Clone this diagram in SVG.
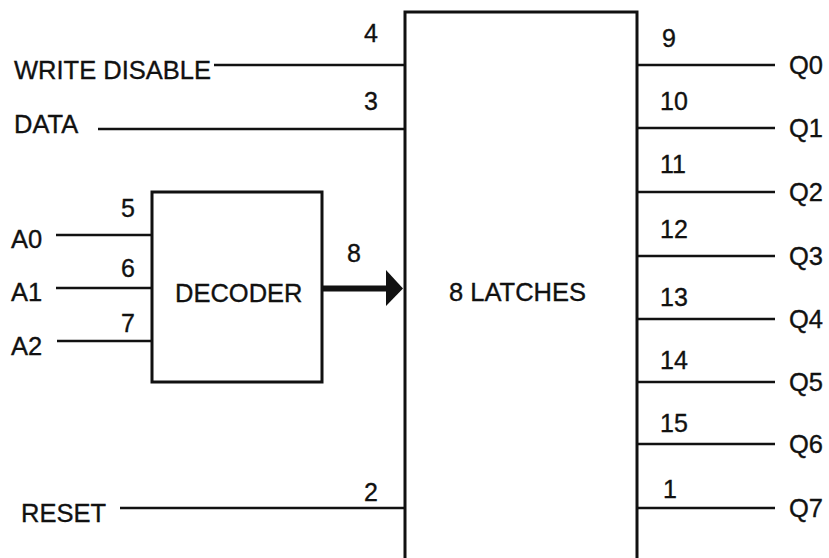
<svg xmlns="http://www.w3.org/2000/svg" width="829" height="558" viewBox="0 0 829 558">
<style>
.box{fill:#fff;stroke:#111;stroke-width:3}
.w{stroke:#111;stroke-width:2.5;fill:none}
.lbl,.pin{font-family:"Liberation Sans",Arial,sans-serif;font-size:25.5px;fill:#111;stroke:#111;stroke-width:0.35}
.pin{font-size:25px}
</style>
<rect width="829" height="558" fill="#fff"/>
<g id="connectors">
<line class="w" x1="214" y1="65" x2="405" y2="65"/>
<line class="w" x1="98" y1="129" x2="405" y2="129"/>
<line class="w" x1="56" y1="235" x2="152" y2="235"/>
<line class="w" x1="56" y1="288" x2="152" y2="288"/>
<line class="w" x1="57" y1="341" x2="152" y2="341"/>
<line class="w" x1="120" y1="508" x2="405" y2="508"/>
<line x1="322" y1="288.5" x2="388" y2="288.5" stroke="#111" stroke-width="6"/>
<polygon points="386,270 403,288.5 386,306" fill="#111"/>
<line class="w" x1="637" y1="65" x2="775" y2="65"/>
<line class="w" x1="637" y1="128" x2="775" y2="128"/>
<line class="w" x1="637" y1="192" x2="775" y2="192"/>
<line class="w" x1="637" y1="256" x2="775" y2="256"/>
<line class="w" x1="637" y1="319" x2="775" y2="319"/>
<line class="w" x1="637" y1="382" x2="775" y2="382"/>
<line class="w" x1="637" y1="444" x2="775" y2="444"/>
<line class="w" x1="637" y1="508" x2="775" y2="508"/>
</g>
<g id="latches">
<path class="box" d="M405,560 V12 H637 V560"/>
<text class="lbl" x="449" y="301">8 LATCHES</text>
</g>
<g id="decoder">
<rect class="box" x="152" y="192" width="170" height="190"/>
<text class="lbl" x="175" y="302">DECODER</text>
</g>
<g id="inputs">
<text class="lbl" x="14" y="79">WRITE DISABLE</text>
<text class="pin" x="364" y="42">4</text>
<text class="lbl" x="14" y="133">DATA</text>
<text class="pin" x="364" y="110">3</text>
<text class="lbl" x="11" y="248">A0</text>
<text class="pin" x="121" y="217">5</text>
<text class="lbl" x="11" y="301">A1</text>
<text class="pin" x="121" y="277">6</text>
<text class="lbl" x="11" y="355">A2</text>
<text class="pin" x="121" y="332">7</text>
<text class="pin" x="347" y="262">8</text>
<text class="lbl" x="21" y="522">RESET</text>
<text class="pin" x="364" y="501">2</text>
</g>
<g id="outputs">
<text class="pin" x="662" y="47">9</text>
<text class="lbl" x="789" y="74">Q0</text>
<text class="pin" x="660" y="110">10</text>
<text class="lbl" x="789" y="137">Q1</text>
<text class="pin" x="660" y="173">11</text>
<text class="lbl" x="789" y="201">Q2</text>
<text class="pin" x="660" y="238">12</text>
<text class="lbl" x="789" y="265">Q3</text>
<text class="pin" x="660" y="306">13</text>
<text class="lbl" x="789" y="328">Q4</text>
<text class="pin" x="660" y="369">14</text>
<text class="lbl" x="789" y="391">Q5</text>
<text class="pin" x="660" y="432">15</text>
<text class="lbl" x="789" y="453">Q6</text>
<text class="pin" x="663" y="498">1</text>
<text class="lbl" x="789" y="517">Q7</text>
</g>
</svg>
